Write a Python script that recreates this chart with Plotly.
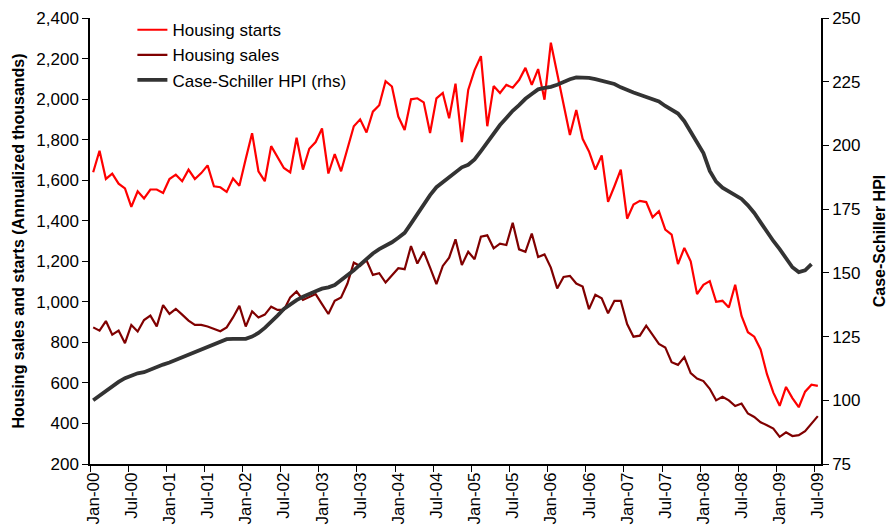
import plotly.graph_objects as go

# monthly, Jan-00 .. Jul-09 (annualized thousands)
housing_starts = [
    1639, 1745, 1606, 1632, 1583, 1559, 1468, 1545, 1510, 1554, 1554, 1537,
    1606, 1627, 1595, 1652, 1606, 1635, 1673, 1570, 1565, 1542, 1608, 1573,
    1705, 1832, 1644, 1595, 1768, 1712, 1660, 1638, 1809, 1652, 1755, 1788,
    1855, 1633, 1729, 1644, 1752, 1866, 1900, 1835, 1938, 1970, 2088, 2062,
    1914, 1848, 1999, 2004, 1984, 1833, 2004, 2030, 1905, 2076, 1788, 2045,
    2143, 2212, 1866, 2064, 2030, 2070, 2056, 2094, 2154, 2070, 2148, 1997,
    2278, 2130, 1965, 1823, 1946, 1804, 1742, 1652, 1722, 1493, 1570, 1652,
    1410, 1480, 1498, 1492, 1417, 1447, 1356, 1332, 1186, 1266, 1200, 1038,
    1084, 1102, 1000, 1005, 972, 1084, 930, 850, 828, 765, 643, 552,
    487, 580, 525, 480, 557, 591, 585,
]

housing_sales = [
    874, 858, 905, 838, 858, 796, 886, 854, 910, 932, 879, 984,
    940, 965, 937, 907, 886, 886, 878, 866, 855, 874, 923, 980,
    878, 953, 923, 937, 976, 960, 960, 1022, 1051, 1009, 1022, 1038,
    989, 940, 1005, 1022, 1090, 1193, 1177, 1205, 1133, 1141, 1095, 1132,
    1166, 1161, 1275, 1189, 1247, 1169, 1087, 1177, 1218, 1308, 1182, 1247,
    1210, 1321, 1328, 1264, 1287, 1280, 1390, 1259, 1247, 1337, 1221, 1234,
    1169, 1066, 1123, 1128, 1090, 1075, 964, 1035, 1017, 943, 1005, 1005,
    890, 828, 833, 882, 838, 792, 775, 702, 689, 727, 648, 621,
    609, 571, 514, 532, 514, 486, 498, 449, 432, 406, 391, 375,
    334, 356, 338, 342, 362, 400, 436,
]

# Case-Schiller HPI, Jan-00 .. Jun-09
case_schiller = [
    100.0, 101.8, 103.6, 105.6, 107.2, 108.7, 109.8, 110.6, 111.0, 112.0, 113.2, 114.0,
    114.8, 115.8, 116.9, 118.0, 119.0, 120.0, 121.0, 122.2, 123.2, 124.0, 124.1, 124.1,
    124.1, 125.0, 126.4, 128.4, 130.6, 133.2, 135.8, 137.6, 139.3, 140.6, 141.9, 142.8,
    143.8, 144.3, 145.2, 147.0, 148.8, 151.0, 153.2, 155.4, 157.6, 159.3, 160.6, 162.0,
    163.8, 165.7, 169.3, 173.2, 176.8, 180.5, 183.6, 185.6, 187.2, 189.5, 191.4, 192.4,
    194.5, 197.8, 201.3, 205.0, 208.0, 210.8, 213.6, 215.8, 218.3, 220.2, 222.0, 222.6,
    223.0, 223.8, 225.0, 226.0, 226.7, 226.7, 226.5, 226.0, 225.3, 224.7, 224.1, 222.8,
    221.6, 220.8, 219.9, 219.1, 218.2, 217.3, 215.5, 213.8, 212.5, 209.5, 205.3, 200.5,
    197.0, 190.0, 185.8, 183.4, 181.8, 180.4, 179.0, 176.5, 173.5, 169.8, 166.0, 162.5,
    159.3, 155.6, 152.2, 150.3, 151.0, 153.4,
]

tick_labels = [
    "Jan-00", "Jul-00", "Jan-01", "Jul-01", "Jan-02", "Jul-02", "Jan-03",
    "Jul-03", "Jan-04", "Jul-04", "Jan-05", "Jul-05", "Jan-06", "Jul-06",
    "Jan-07", "Jul-07", "Jan-08", "Jul-08", "Jan-09", "Jul-09",
]

FONT = "Liberation Sans, Arial, sans-serif"

fig = go.Figure()
fig.add_trace(go.Scatter(x=list(range(len(housing_starts))), y=housing_starts,
                         name="Housing starts", mode="lines",
                         line=dict(color="#ff0000", width=2.2)))
fig.add_trace(go.Scatter(x=list(range(len(housing_sales))), y=housing_sales,
                         name="Housing sales", mode="lines",
                         line=dict(color="#800000", width=2.2)))
fig.add_trace(go.Scatter(x=list(range(len(case_schiller))), y=case_schiller,
                         name="Case-Schiller HPI (rhs)", mode="lines", yaxis="y2",
                         line=dict(color="#333333", width=3.8)))

fig.update_layout(
    width=891, height=531,
    margin=dict(l=90, r=70, t=16, b=67),
    paper_bgcolor="white", plot_bgcolor="white",
    font=dict(family=FONT, size=17, color="black"),
    showlegend=True,
    legend=dict(x=0.058, y=1.013, xanchor="left", yanchor="top",
                bgcolor="rgba(0,0,0,0)", font=dict(size=17),
                tracegroupgap=0, itemwidth=30),
    xaxis=dict(
        range=[-0.5, 114.5], automargin=False,
        tickvals=list(range(0, 115, 6)), ticktext=tick_labels,
        tickangle=-90, ticks="", showgrid=False, zeroline=False,
        showline=True, linecolor="black", linewidth=1.5,
        minor=dict(tick0=-0.5, dtick=6, ticks="outside", ticklen=6,
                   tickcolor="black", showgrid=False),
        tickfont=dict(size=17),
    ),
    yaxis=dict(
        range=[200, 2400], dtick=200, tickformat=",", automargin=False,
        ticks="outside", ticklen=6, tickcolor="black",
        showline=True, linecolor="black", linewidth=1.5,
        showgrid=False, zeroline=False,
        title=dict(text="<b>Housing sales and starts (Annualized thousands)</b>",
                   font=dict(size=16), standoff=8),
    ),
    yaxis2=dict(
        range=[75, 250], dtick=25, overlaying="y", side="right", automargin=False,
        ticks="outside", ticklen=6, tickcolor="black",
        showline=True, linecolor="black", linewidth=1.5,
        showgrid=False, zeroline=False,
        title=dict(text="<b>Case-Schiller HPI</b>", font=dict(size=16), standoff=14),
    ),
)

fig.write_html("out.html", config={"displayModeBar": False},
               post_script="document.body.style.margin='0';")
